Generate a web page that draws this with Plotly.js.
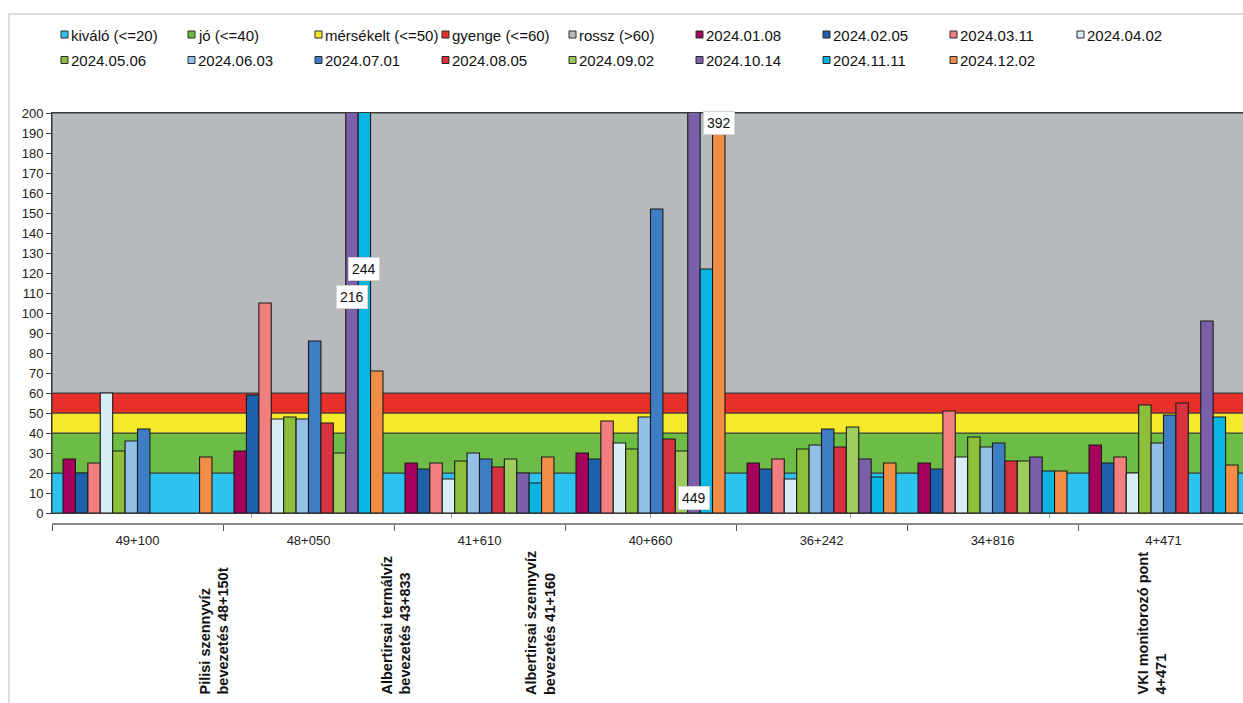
<!DOCTYPE html>
<html>
<head>
<meta charset="utf-8">
<script src="https://cdn.plot.ly/plotly-3.0.1.min.js"></script>
<style>
html,body{margin:0;padding:0;overflow:hidden;background:#ffffff;width:1243px;height:703px;}
#frame{position:absolute;left:8px;top:13px;width:1300px;height:720px;border-left:2px solid #dcdcdc;border-top:2px solid #dcdcdc;background:#ffffff;}
#chart{position:absolute;left:0;top:0;width:1250px;height:703px;}
</style>
</head>
<body>
<div id="frame"></div>
<div id="chart"></div>
<script>
// ---------- data ----------
const categories = ['49+100', '48+050', '41+610', '40+660', '36+242', '34+816', '4+471'];

const bandNames  = ['kiváló (<=20)', 'jó (<=40)', 'mérsékelt (<=50)', 'gyenge (<=60)', 'rossz (>60)'];
const bandLower  = [0, 20, 40, 50, 60];
const bandUpper  = [20, 40, 50, 60, 200];

const seriesNames = ['2024.01.08', '2024.02.05', '2024.03.11', '2024.04.02', '2024.05.06', '2024.06.03',
                     '2024.07.01', '2024.08.05', '2024.09.02', '2024.10.14', '2024.11.11', '2024.12.02'];
const v20240108 = [27, 31, 25, 30, 25, 25, 34];
const v20240205 = [20, 59, 22, 27, 22, 22, 25];
const v20240311 = [25, 105, 25, 46, 27, 51, 28];
const v20240402 = [60, 47, 17, 35, 17, 28, 20];
const v20240506 = [31, 48, 26, 32, 32, 38, 54];
const v20240603 = [36, 47, 30, 48, 34, 33, 35];
const v20240701 = [42, 86, 27, 152, 42, 35, 49];
const v20240805 = [null, 45, 23, 37, 33, 26, 55];
const v20240902 = [null, 30, 27, 31, 43, 26, null];
const v20241014 = [null, 216, 20, 449, 27, 28, 96];
const v20241111 = [null, 244, 15, 122, 18, 21, 48];
const v20241202 = [28, 71, 28, 392, 25, 21, 24];

const yTop = 200;

const noteLines = [
  'Pilisi szennyvíz<br>bevezetés 48+150t',
  'Albertirsai termálvíz<br>bevezetés 43+833',
  'Albertirsai szennyvíz<br>bevezetés 41+160',
  'VKI monitorozó pont<br>4+471'
];

// ---------- styling ----------
const seriesValues = [v20240108, v20240205, v20240311, v20240402, v20240506, v20240603,
                      v20240701, v20240805, v20240902, v20241014, v20241111, v20241202];
const bandColors = ['#2CC3F0', '#6CBC45', '#F6E82B', '#E7302A', '#B7BABD'];
const seriesColors = ['#A6005F', '#1C61AC', '#F17F7F', '#D8EDF6', '#8DBF3B', '#93C0E6',
                      '#3E7DC3', '#D7323F', '#9DCB5C', '#7B5FA9', '#07B5E2', '#F28D45'];

const FONT = 'Liberation Sans, Arial, sans-serif';
const W = 1250, H = 703;
const M = {l: 52, r: 1, t: 113, b: 180};
const plotW = W - M.l - M.r;
const plotH = H - M.t - M.b;
const axisOffset = 10;           // px between plot bottom and category axis
const bargap = 0.129;

const px2x = px => (px - M.l) / plotW;
const px2y = py => (H - M.b - py) / plotH;

const traces = [];
bandNames.forEach((n, i) => {
  traces.push({
    type: 'bar', name: n, xaxis: 'x', yaxis: 'y',
    x: [3], y: [bandUpper[i] - bandLower[i]], base: [bandLower[i]],
    width: [6], offset: -3,
    marker: {color: bandColors[i], line: {color: '#3a3a3a', width: 1}},
    hoverinfo: 'skip', showlegend: false
  });
});
seriesNames.forEach((n, i) => {
  traces.push({
    type: 'bar', name: n, xaxis: 'x2', yaxis: 'y',
    x: categories, y: seriesValues[i], showlegend: false,
    marker: {color: seriesColors[i], line: {color: '#1b1b1b', width: 1.1}}
  });
});

// labels for clipped bars
const overflowLabelY = {
  '2024.10.14|48+050': 108, '2024.11.11|48+050': 122,
  '2024.10.14|40+660': 7.5, '2024.12.02|40+660': 195
};
const slotPx = (plotW / categories.length) * (1 - bargap) / seriesNames.length;
const annotations = [];
const shapes = [];
seriesNames.forEach((n, s) => {
  seriesValues[s].forEach((v, c) => {
    if (v !== null && v > yTop) {
      annotations.push({
        xref: 'x2', yref: 'y', x: categories[c], y: overflowLabelY[n + '|' + categories[c]],
        xshift: (s - (seriesNames.length - 1) / 2) * slotPx,
        text: String(v), showarrow: false,
        bgcolor: '#ffffff', bordercolor: '#d4d4d4', borderwidth: 1, borderpad: 3,
        font: {family: FONT, size: 14, color: '#111'}
      });
    }
  });
});

// rotated notes below the axis
const notePx = [214, 396, 540, 1152];
noteLines.forEach((t, i) => {
  annotations.push({
    xref: 'paper', yref: 'paper', x: px2x(notePx[i]), y: px2y(697),
    xanchor: 'center', yanchor: 'bottom', textangle: -90, align: 'left',
    text: t, showarrow: false,
    font: {family: FONT, size: 14.5, weight: 700, color: '#111'}
  });
});

// legend (Excel style: small square right next to the text)
const legendNames = bandNames.concat(seriesNames);
const legendColors = bandColors.concat(seriesColors);
const perRow = 9, colStep = 127, rowStep = 25.5, legX = 61, legY = 34.5, box = 7;
legendNames.forEach((n, i) => {
  const col = i % perRow, row = Math.floor(i / perRow);
  const mx = legX + col * colStep, my = legY + row * rowStep;
  shapes.push({
    type: 'rect', xref: 'paper', yref: 'paper',
    x0: px2x(mx), x1: px2x(mx + box), y0: px2y(my - box / 2), y1: px2y(my + box / 2),
    fillcolor: legendColors[i], line: {color: '#2a2a2a', width: 1}
  });
  annotations.push({
    xref: 'paper', yref: 'paper', x: px2x(mx + box + 1), y: px2y(my + 0.5),
    xanchor: 'left', yanchor: 'middle', showarrow: false, text: n,
    font: {family: FONT, size: 15, color: '#111'}
  });
});

const layout = {
  width: W, height: H,
  margin: M,
  paper_bgcolor: 'rgba(0,0,0,0)', plot_bgcolor: 'rgba(0,0,0,0)',
  barmode: 'group', bargap: bargap, bargroupgap: 0,
  showlegend: false,
  xaxis: {
    range: [0, 6], tickvals: [1, 2, 3, 4, 5], ticks: 'outside', ticklen: 4, tickcolor: '#999',
    showticklabels: false, showgrid: false, zeroline: false,
    showline: true, linecolor: '#3a3a3a', linewidth: 1, mirror: true, anchor: 'y', fixedrange: true
  },
  xaxis2: {
    type: 'category', categoryorder: 'array', categoryarray: categories,
    range: [-0.5, categories.length - 0.5], overlaying: 'x', anchor: 'free', position: 0, side: 'bottom',
    showline: true, linecolor: '#8a8a8a', linewidth: 1.5,
    ticks: 'outside', tickson: 'boundaries', ticklen: 6, tickcolor: '#555', tickwidth: 1,
    ticklabelstandoff: 5,
    tickfont: {family: FONT, size: 13, color: '#222'}, showgrid: false, zeroline: false, fixedrange: true
  },
  yaxis: {
    range: [0, yTop], domain: [axisOffset / plotH, 1], dtick: 10, tick0: 0,
    ticks: 'outside', ticklen: 5, tickcolor: '#444',
    showline: true, linecolor: '#333', linewidth: 1,
    showgrid: false, zeroline: false,
    tickfont: {family: FONT, size: 13, color: '#222'}, fixedrange: true
  },
  annotations: annotations,
  shapes: shapes
};

Plotly.newPlot('chart', traces, layout, {displayModeBar: false, staticPlot: true});
</script>
</body>
</html>
